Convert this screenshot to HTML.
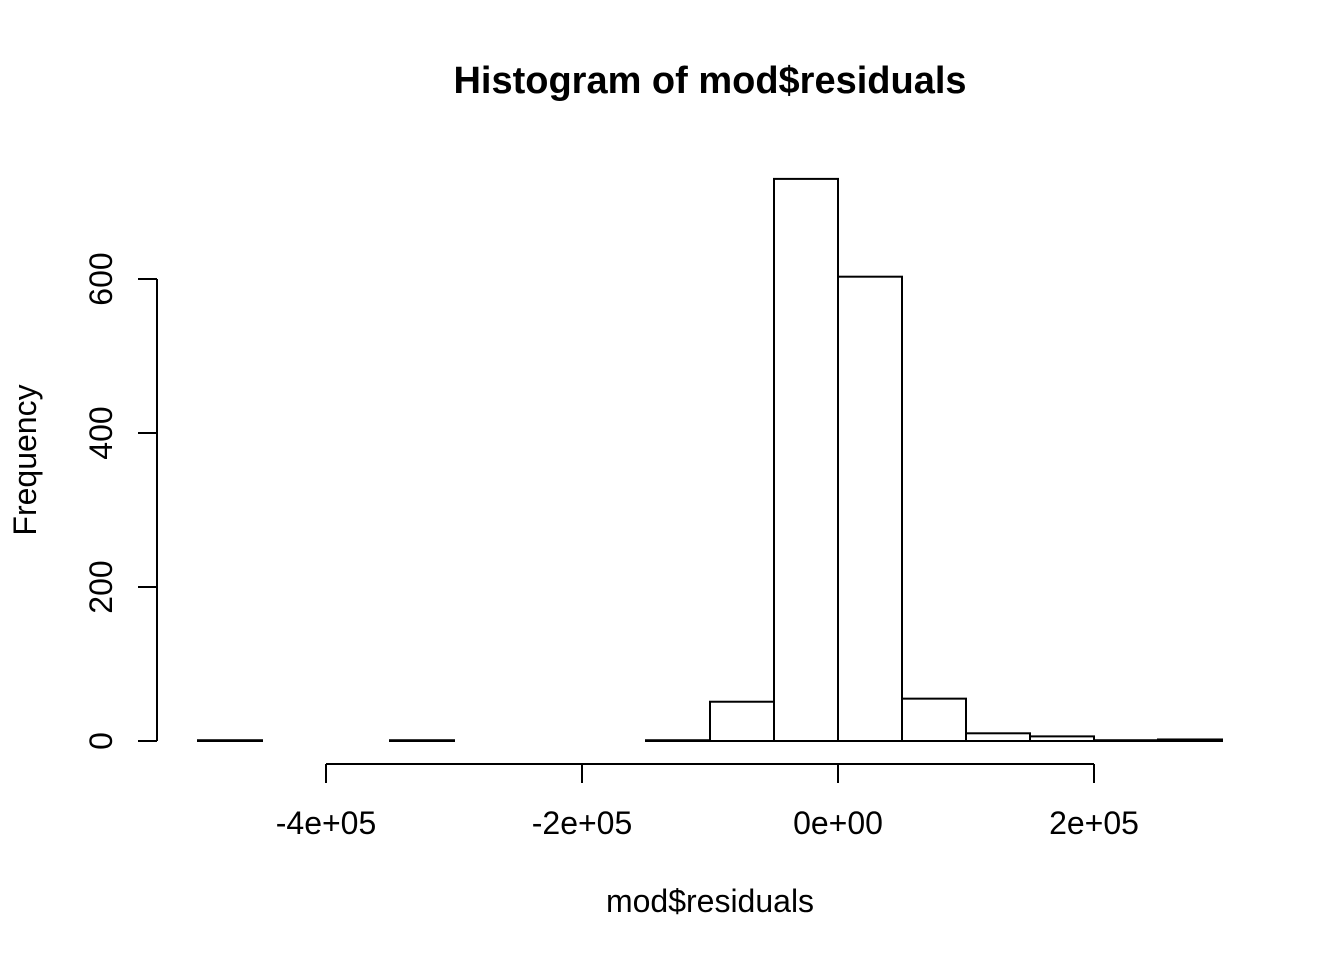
<!DOCTYPE html>
<html><head><meta charset="utf-8"><style>body{margin:0;background:#fff}svg{display:block}text{font-family:"Liberation Sans",Arial,sans-serif}</style></head>
<body>
<svg id="c" width="1344" height="960" xmlns="http://www.w3.org/2000/svg">
<text x="710" y="93" font-size="38" font-weight="bold" text-anchor="middle">Histogram of mod$residuals</text>
<text x="710" y="912" font-size="32" text-anchor="middle">mod$residuals</text>
<text transform="translate(36,460) rotate(-90)" font-size="32" text-anchor="middle">Frequency</text>
<g id="bars"></g><g id="xax"></g><g id="yax"></g>
</svg>
<script>
const binStarts=[-500000,-450000,-400000,-350000,-300000,-250000,-200000,-150000,-100000,-50000,0,50000,100000,150000,200000,250000];
const counts=[1,0,0,1,0,0,0,1,51,730,603,55,10,6,1,2];
const binWidth=50000;
const xTicks=[-400000,-200000,0,200000];
const xTickLabels=["-4e+05","-2e+05","0e+00","2e+05"];
const yTicks=[0,200,400,600];
const x=v=>838+v*0.00128;
const y=v=>741-v*0.77;
const ns="http://www.w3.org/2000/svg";
function mk(t,a,p){const e=document.createElementNS(ns,t);for(const k in a)e.setAttribute(k,a[k]);p.appendChild(e);return e;}
const bars=document.getElementById('bars');
binStarts.forEach((b,i)=>{
 const r=mk('rect',{x:x(b),y:y(counts[i]),width:x(b+binWidth)-x(b),height:y(0)-y(counts[i]),fill:'#fff',stroke:'#000','stroke-width':2},bars);
 
 
});
const xa=document.getElementById('xax');
const xl=mk('line',{x1:x(xTicks[0]),x2:x(xTicks[xTicks.length-1]),y1:764,y2:764,stroke:'#000','stroke-width':2},xa);


xTicks.forEach((t,i)=>{
 mk('line',{x1:x(t),x2:x(t),y1:764,y2:783,stroke:'#000','stroke-width':2},xa);
 const tx=mk('text',{x:x(t),y:834,'font-size':32,'text-anchor':'middle'},xa);
 tx.textContent=xTickLabels[i];
 
 
});
const ya=document.getElementById('yax');
const yl=mk('line',{x1:157,x2:157,y1:y(0),y2:y(yTicks[yTicks.length-1]),stroke:'#000','stroke-width':2},ya);


yTicks.forEach(t=>{
 mk('line',{x1:138,x2:157,y1:y(t),y2:y(t),stroke:'#000','stroke-width':2},ya);
 const tx=mk('text',{transform:`translate(112,${y(t)}) rotate(-90)`,'font-size':32,'text-anchor':'middle'},ya);
 tx.textContent=String(t);
 
 
});
</script>
</body></html>
